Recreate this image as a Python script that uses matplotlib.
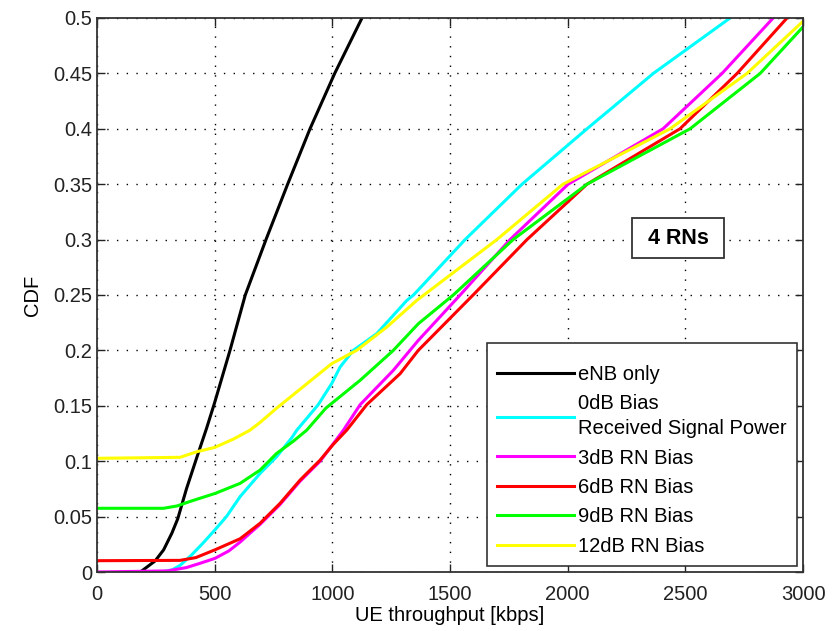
import matplotlib
matplotlib.use("Agg")
import matplotlib.pyplot as plt

plt.rcParams['font.family'] = ['Liberation Sans', 'DejaVu Sans']

# eNB only
enb_x = [184, 247, 283, 318, 343, 380, 425, 466, 500, 565, 630, 718, 810, 905, 1010, 1126]
enb_y = [0, 0.01, 0.02, 0.035, 0.048, 0.075, 0.104, 0.13, 0.153, 0.2, 0.25, 0.3, 0.35, 0.4, 0.45, 0.5]

# 0dB bias (received signal power)
b0_x = [276, 320, 353, 400, 450, 501, 550, 608, 693, 763, 827, 849, 940, 997, 1033, 1089, 1188, 1316,
        1345, 1564, 1806, 2082, 2364, 2690]
b0_y = [0, 0.002, 0.006, 0.015, 0.026, 0.038, 0.05, 0.068, 0.089, 0.104, 0.121, 0.128, 0.151, 0.17,
        0.185, 0.2, 0.215, 0.245, 0.25, 0.3, 0.35, 0.4, 0.45, 0.5]

# 3dB RN bias
b3_x = [0, 300, 380, 440, 501, 560, 608, 650, 693, 778, 863, 948, 1047, 1118, 1259, 1365, 1543, 1755,
        2002, 2405, 2656, 2873]
b3_y = [0, 0.001, 0.004, 0.008, 0.0123, 0.019, 0.027, 0.035, 0.043, 0.061, 0.082, 0.1, 0.128, 0.151,
        0.182, 0.209, 0.25, 0.3, 0.35, 0.4, 0.45, 0.5]

# 6dB RN bias
b6_x = [0, 353, 420, 501, 608, 693, 778, 863, 948, 1003, 1061, 1146, 1288, 1365, 1598, 1827, 2082,
        2477, 2720, 2932]
b6_y = [0.0102, 0.0105, 0.013, 0.02, 0.03, 0.044, 0.062, 0.083, 0.101, 0.115, 0.128, 0.151, 0.179,
        0.2, 0.25, 0.3, 0.35, 0.4, 0.45, 0.5]

# 9dB RN bias
b9_x = [0, 283, 340, 400, 503, 608, 693, 763, 834, 891, 973, 1118, 1259, 1365, 1514, 1768, 2082,
        2520, 2818, 3000]
b9_y = [0.0575, 0.0575, 0.0596, 0.064, 0.071, 0.08, 0.092, 0.107, 0.118, 0.128, 0.148, 0.173, 0.2,
        0.224, 0.25, 0.3, 0.35, 0.4, 0.45, 0.492]

# 12dB RN bias
b12_x = [0, 353, 425, 501, 580, 650, 693, 764, 834, 997, 1103, 1231, 1358, 1699, 1980, 2435, 2762, 3000]
b12_y = [0.1026, 0.1035, 0.1086, 0.1125, 0.12, 0.128, 0.135, 0.148, 0.16, 0.188, 0.2, 0.221, 0.245,
         0.3, 0.35, 0.4, 0.45, 0.497]

labels = ["eNB only", "0dB Bias\nReceived Signal Power", "3dB RN Bias", "6dB RN Bias",
          "9dB RN Bias", "12dB RN Bias"]
colors = ["black", "#00ffff", "#ff00ff", "#ff0000", "#00ff00", "#ffff00"]
series = [(enb_x, enb_y), (b0_x, b0_y), (b3_x, b3_y), (b6_x, b6_y), (b9_x, b9_y), (b12_x, b12_y)]

xticks = [0, 500, 1000, 1500, 2000, 2500, 3000]
yticks = [0, 0.05, 0.1, 0.15, 0.2, 0.25, 0.3, 0.35, 0.4, 0.45, 0.5]
ytick_labels = ["0", "0.05", "0.1", "0.15", "0.2", "0.25", "0.3", "0.35", "0.4", "0.45", "0.5"]

fig = plt.figure(figsize=(8.32, 6.31), dpi=100)
ax = fig.add_axes([0.1166, 0.0935, 0.8486, 0.878])

for (x, y), c, lab in zip(series, colors, labels):
    ax.plot(x, y, color=c, lw=2.2, label=lab)

ax.set_xlim(0, 3000)
ax.set_ylim(0, 0.5)
ax.set_xticks(xticks)
ax.set_yticks(yticks)
ax.set_yticklabels(ytick_labels)
ax.grid(True, color="black", linestyle=(0, (1, 6)), linewidth=1.0)
ax.tick_params(direction="in", top=True, right=True, length=6, width=1, labelsize=14.5, colors="#222222")
ax.tick_params(axis="x", pad=9)
for s in ax.spines.values():
    s.set_color("#333333")
    s.set_linewidth(1.3)

ax.set_xlabel("UE throughput [kbps]", fontsize=14.5, labelpad=2)
ax.set_ylabel("CDF", fontsize=14.5, labelpad=8)

ax.text(2469, 0.3014, " 4 RNs ", fontsize=15.5, fontweight="bold", ha="center", va="center",
        bbox=dict(boxstyle="square,pad=0.45", fc="white", ec="#333333", lw=1.3))

leg = ax.legend(loc="lower right", bbox_to_anchor=(0.9915, 0.0108), fontsize=14.5, frameon=True,
                fancybox=False, framealpha=1, edgecolor="#333333", handlelength=3.85,
                handletextpad=0.2, labelspacing=0.52, borderpad=0.5, borderaxespad=0,
                title=" ", title_fontsize=1)
leg.get_frame().set_linewidth(1.2)
for t in leg.get_texts():
    t.set_linespacing(1.38)

fig.savefig("out.png", dpi=100)
